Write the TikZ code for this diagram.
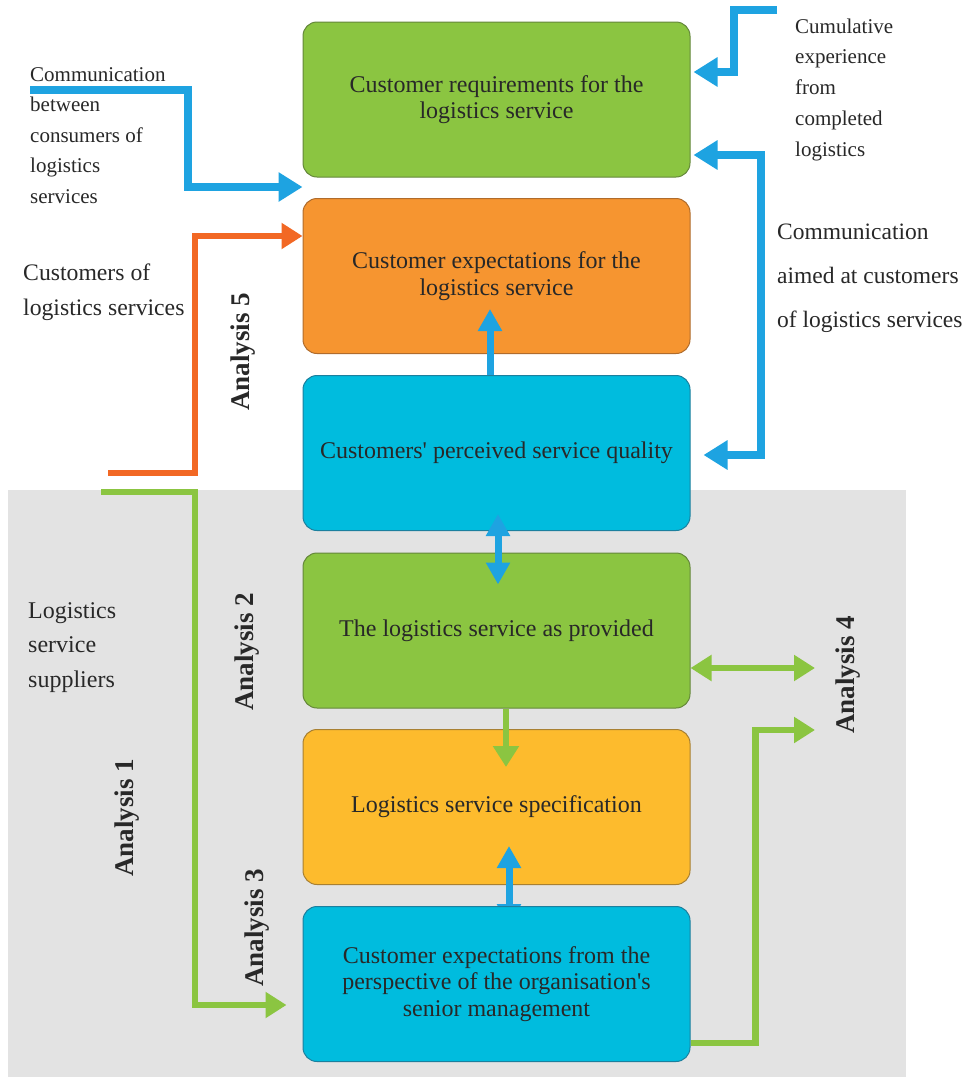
\documentclass[tikz,border=0pt]{standalone}
\usepackage{fontspec}
\setmainfont{Liberation Serif}
\usetikzlibrary{arrows.meta,calc}

\definecolor{boxgreen}{RGB}{139,197,65}
\definecolor{boxgreenrim}{RGB}{100,135,58}
\definecolor{boxorange}{RGB}{246,149,48}
\definecolor{boxorangerim}{RGB}{176,108,44}
\definecolor{boxcyan}{RGB}{0,188,222}
\definecolor{boxcyanrim}{RGB}{28,128,158}
\definecolor{boxyellow}{RGB}{253,187,45}
\definecolor{boxyellowrim}{RGB}{168,128,50}
\definecolor{flowblue}{RGB}{30,163,225}
\definecolor{floworange}{RGB}{242,104,36}
\definecolor{flowgreen}{RGB}{139,197,65}
\definecolor{panelgrey}{RGB}{227,227,227}
\definecolor{ink}{RGB}{40,40,40}

\newcommand{\boxfont}{\fontsize{24}{26.5}\selectfont}
\newcommand{\labfont}{\bfseries\fontsize{27}{30}\selectfont}

\pgfdeclarelayer{front}
\pgfsetlayers{main,front}

\tikzset{
  stagebox/.style={rounded corners=14pt, minimum width=387pt, minimum height=155pt,
    inner sep=0pt, align=center, text=ink, font=\boxfont, line width=1pt},
  sidetext/.style={inner sep=0pt, align=left, text=ink, anchor=north west},
  analysis/.style={inner sep=0pt, text=ink, font=\labfont, rotate=90},
  bluebig/.style={draw=flowblue, line width=8pt, -{Triangle[length=24pt,width=28pt]}},
  bluebigtwo/.style={draw=flowblue, line width=8pt,
    {Triangle[length=24pt,width=28pt]}-{Triangle[length=24pt,width=28pt]}},
  blueone/.style={draw=flowblue, line width=7pt, -{Triangle[length=22pt,width=23pt]}},
  bluetwo/.style={draw=flowblue, line width=7pt,
    {Triangle[length=22pt,width=23pt]}-{Triangle[length=22pt,width=23pt]}},
  orangeflow/.style={draw=floworange, line width=6.5pt, -{Triangle[length=21pt,width=25pt]}},
  greenone/.style={draw=flowgreen, line width=6.5pt, -{Triangle[length=21pt,width=25pt]}},
  greentwo/.style={draw=flowgreen, line width=6.5pt,
    {Triangle[length=21pt,width=25pt]}-{Triangle[length=21pt,width=25pt]}},
}

\begin{document}
\begin{tikzpicture}[x=1pt,y=-1pt]
  % canvas and the suppliers' panel
  \fill[white] (0,0) rectangle (971,1077);
  \useasboundingbox (0,0) rectangle (971,1077);
  \fill[panelgrey] (8,490) rectangle (906,1077);

  % stages of the service quality chain
  \node[stagebox, fill=boxgreen, draw=boxgreenrim] (b1) at (496.5,99.5)
    {Customer requirements for the\\logistics service};
  \node[stagebox, fill=boxorange, draw=boxorangerim] (b2) at (496.5,276)
    {Customer expectations for the\\logistics service};
  \node[stagebox, fill=boxcyan, draw=boxcyanrim] (b3) at (496.5,453)
    {Customers\textquotesingle{} perceived service quality};
  \node[stagebox, fill=boxgreen, draw=boxgreenrim] (b4) at (496.5,630.5)
    {The logistics service as provided};
  \node[stagebox, fill=boxyellow, draw=boxyellowrim] (b5) at (496.5,807)
    {Logistics service specification};
  \begin{pgfonlayer}{front}
    \node[stagebox, fill=boxcyan, draw=boxcyanrim] (b6) at (496.5,984)
      {Customer expectations from the\\perspective of the organisation\textquotesingle s\\senior management};
  \end{pgfonlayer}

  % side texts
  \node[sidetext, font=\fontsize{21}{30.5}\selectfont] (tcomm) at (30,67)
    {Communication\\between\\consumers of\\logistics\\services};
  \node[sidetext, font=\fontsize{21}{30.7}\selectfont] (tcum) at (795,18.5)
    {Cumulative\\experience\\from\\completed\\logistics};
  \node[sidetext, font=\fontsize{23.7}{35}\selectfont] (tcust) at (23,264)
    {Customers of\\logistics services};
  \node[sidetext, font=\fontsize{23.5}{44}\selectfont] (taim) at (777,224)
    {Communication\\aimed at customers\\of logistics services};
  \node[sidetext, font=\fontsize{24}{34.5}\selectfont] (tsup) at (28,602)
    {Logistics\\service\\suppliers};

  % analysis labels
  \node[analysis] (a5) at (243,352) {Analysis 5};
  \node[analysis] (a2) at (247,652) {Analysis 2};
  \node[analysis] (a1) at (127,818) {Analysis 1};
  \node[analysis] (a3) at (257,928) {Analysis 3};
  \node[analysis] (a4) at (848,675) {Analysis 4};

  % free ends of the connectors
  \coordinate (commstart) at (30,90);
  \coordinate (cumstart) at (777,10);
  \coordinate (custstart) at (108,473);
  \coordinate (supstart) at (101,492);
  \coordinate (a4upper) at (815,668);
  \coordinate (a4lower) at (815,730);

  % customer-side flows
  \draw[bluebig] (commstart) -- ++(158,0) |- ([yshift=11pt]b2.north west);
  \draw[bluebig] (cumstart) -- ++(-43,0) |- ([xshift=3pt,yshift=27.5pt]b1.east);
  \draw[bluebigtwo]
    ([xshift=3pt,yshift=-55.5pt]b1.east) -- ++(67,0) |- ([xshift=13pt,yshift=-2pt]b3.east);
  \draw[orangeflow] (custstart) -- ++(87,0) |- ([yshift=-38pt]b2.north west);

  % links between the stages
  \draw[blueone] ([xshift=-6.5pt]b3.north) -- ([xshift=-6.5pt,yshift=45pt]b2.south);
  \draw[bluetwo] ([xshift=1.5pt,yshift=17pt]b3.south) -- ([xshift=1.5pt,yshift=-32pt]b4.north);
  \draw[greenone] ([xshift=9.5pt]b4.south) -- ([xshift=9.5pt,yshift=-38pt]b5.north);
  \draw[bluetwo] ([xshift=12.5pt,yshift=-20pt]b6.north) -- ([xshift=12.5pt,yshift=39pt]b5.south);

  % supplier-side flows
  \draw[greenone] (supstart) -- ++(94,0) |- ([xshift=-16pt,yshift=-21pt]b6.west);
  \draw[greentwo] ([yshift=-37.5pt]b4.east) -- (a4upper);
  \draw[greenone] ([yshift=-59pt]b6.east) -- ++(65,0) |- (a4lower);
\end{tikzpicture}
\end{document}
